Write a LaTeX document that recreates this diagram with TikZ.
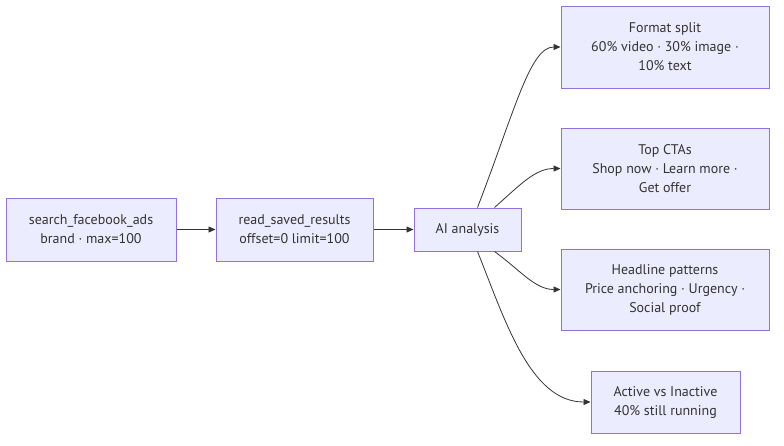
\documentclass[tikz,border=0pt]{standalone}
\usepackage{fontspec}
\setmainfont{PT Sans}
\usetikzlibrary{arrows.meta}
\definecolor{boxfill}{HTML}{ECECFF}
\definecolor{boxline}{HTML}{9370DB}
\definecolor{inkgray}{HTML}{333333}
\begin{document}
\begin{tikzpicture}[
    x=1pt, y=-1pt,
    box/.style={rectangle, draw=boxline, fill=boxfill, line width=1pt, align=center, inner sep=0pt, text=inkgray, font=\fontsize{14}{19}\selectfont},
    arrow/.style={-{Triangle[length=7pt, width=6pt]}, inkgray, line width=0.8pt}
]
\useasboundingbox (0,0) rectangle (784,445);
% Pipeline
\node[box, minimum width=170pt, minimum height=63pt] (search) at (91, 229.5) {search\_facebook\_ads\\brand · max=100};
\node[box, minimum width=157pt, minimum height=63pt] (read) at (294.5, 229.5) {read\_saved\_results\\offset=0 limit=100};
\node[box, minimum width=107pt, minimum height=43pt] (ai) at (467.5, 229.5) {AI analysis};
\draw[arrow] (search) -- (read);
\draw[arrow] (read) -- (ai);
% Findings
\node[box, minimum width=208pt, minimum height=82pt] (format) at (665, 47) {Format split\\60\% video · 30\% image ·\\10\% text};
\node[box, minimum width=208pt, minimum height=81pt] (ctas) at (665, 168.5) {Top CTAs\\Shop now · Learn more ·\\Get offer};
\node[box, minimum width=208pt, minimum height=81pt] (headline) at (665, 289.5) {Headline patterns\\Price anchoring · Urgency ·\\Social proof};
\node[box, minimum width=149pt, minimum height=62pt] (active) at (665.5, 402) {Active vs Inactive\\40\% still running};
% Curved links out of the analysis
\draw[arrow] ([xshift=-44pt]ai.north east) .. controls (515,110) and (530,47) .. (format.west);
\draw[arrow] ([xshift=-27pt]ai.north east) .. controls (520,185) and (535,168.5) .. (ctas.west);
\draw[arrow] ([xshift=-27pt]ai.south east) .. controls (520,270) and (535,289.5) .. (headline.west);
\draw[arrow] ([xshift=-44pt]ai.south east) .. controls (505,320) and (530,402) .. (active.west);
\end{tikzpicture}
\end{document}
